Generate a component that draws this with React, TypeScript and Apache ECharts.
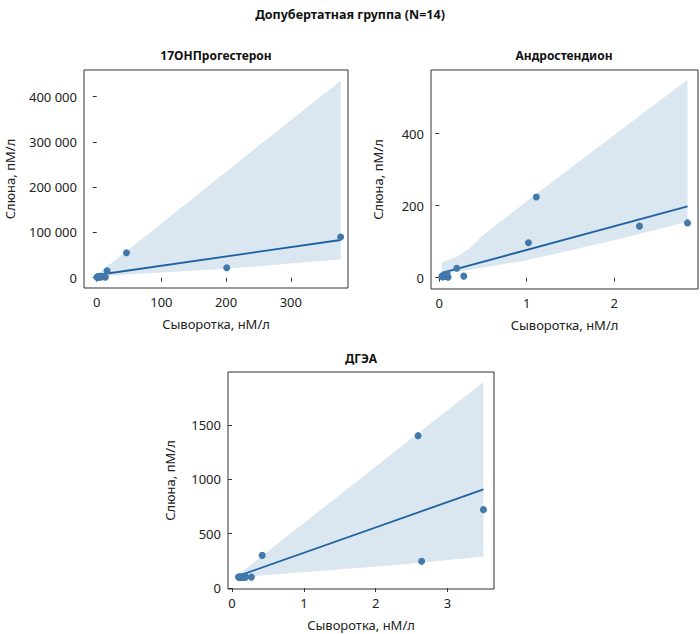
import React, { useEffect, useRef } from "react";
import * as echarts from "echarts";

// ---- Data ----
const mainTitle = "Допубертатная группа (N=14)";
const panelTitles = ["17OHПрогестерон", "Андростендион", "ДГЭА"];
const xLabel = "Сыворотка, нМ/л";
const yLabel = "Слюна, пМ/л";

// Panel 1: 17OHП
const x1 = [0.5, 1, 1.5, 2.5, 3, 4, 5, 6, 8, 13.5, 16, 46, 201, 377];
const y1 = [1200, 800, 2000, 1500, 2500, 1000, 3000, 2000, 1500, 1200, 15500, 55000, 22000, 90000];
const fitX1 = [0.5, 377];
const fitY1 = [6000, 83300];
const bandX1 = [0.5, 20, 100, 200, 377];
const bandHi1 = [7000, 29000, 120000, 234000, 435400];
const bandLo1 = [3000, 4700, 11500, 20000, 40600];
const xTicks1 = [0, 100, 200, 300];
const yTicks1 = [0, 100000, 200000, 300000, 400000];

// Panel 2: Андростендион
const x2 = [0.03, 0.04, 0.05, 0.06, 0.07, 0.08, 0.09, 0.1, 0.2, 0.28, 1.02, 1.11, 2.29, 2.84];
const y2 = [4, 2, 5, 8, 3, 6, 10, 1, 26, 4, 97, 224, 143, 152];
const fitX2 = [0.03, 2.84];
const fitY2 = [13, 198];
const bandX2 = [0.03, 0.2, 0.35, 0.5, 0.7, 1.0, 2.0, 2.84];
const bandHi2 = [42, 58, 82, 118, 156, 212, 396, 550];
const bandLo2 = [8, 16, 22, 28, 36, 48, 104, 155];
const xTicks2 = [0, 1, 2];
const yTicks2 = [0, 200, 400];

// Panel 3: ДГЭА
const x3 = [0.09, 0.1, 0.11, 0.12, 0.13, 0.14, 0.15, 0.17, 0.19, 0.27, 0.42, 2.59, 2.64, 3.5];
const y3 = [100, 100, 100, 100, 100, 100, 100, 100, 100, 100, 300, 1400, 245, 720];
const fitX3 = [0.09, 3.5];
const fitY3 = [112, 906];
const bandX3 = [0.09, 2.45, 3.5];
const bandHi3 = [125, 1349, 1893];
const bandLo3 = [100, 220, 290];
const xTicks3 = [0, 1, 2, 3];
const yTicks3 = [0, 500, 1000, 1500];

const FONT = "Noto Sans";
const POINT = "#4179ab";
const LINE = "#1f62a0";
const BAND = "#dae6f0";
const AX = "#333";

const fmtThousands = (v: number) => String(v).replace(/\B(?=(\d{3})+(?!\d))/g, " ");

export default function App() {
  const ref = useRef<HTMLDivElement>(null);
  useEffect(() => {
    document.body.style.margin = "0";
    if (!ref.current) return;
    const chart = echarts.init(ref.current, null, { renderer: "svg" });

    const panels = [
      { x: x1, y: y1, fx: fitX1, fy: fitY1, bx: bandX1, bh: bandHi1, bl: bandLo1, xt: xTicks1, yt: yTicks1,
        grid: { left: 84, top: 70, width: 264, height: 218 }, xr: [-19.6, 388.4], yr: [-22760, 459000],
        yGap: 68, fmt: fmtThousands },
      { x: x2, y: y2, fx: fitX2, fy: fitY2, bx: bandX2, bh: bandHi2, bl: bandLo2, xt: xTicks2, yt: yTicks2,
        grid: { left: 431, top: 70, width: 267, height: 219 }, xr: [-0.095, 2.96], yr: [-31.7, 577],
        yGap: 47, fmt: (v: number) => String(v) },
      { x: x3, y: y3, fx: fitX3, fy: fitY3, bx: bandX3, bh: bandHi3, bl: bandLo3, xt: xTicks3, yt: yTicks3,
        grid: { left: 228, top: 372, width: 266, height: 217 }, xr: [-0.056, 3.647], yr: [-9.2, 1985],
        yGap: 52, fmt: (v: number) => String(v) },
    ];

    const grids: any[] = [];
    const xAxes: any[] = [];
    const yAxes: any[] = [];
    const series: any[] = [];
    const labelStyle = { fontFamily: FONT, fontSize: 13, color: "#222" };

    panels.forEach((p, i) => {
      grids.push({ ...p.grid, show: true, borderColor: AX, borderWidth: 1, backgroundColor: "transparent", containLabel: false });
      xAxes.push({
        type: "value", gridIndex: i, min: p.xr[0], max: p.xr[1],
        axisLine: { show: false }, splitLine: { show: false },
        axisTick: { show: true, length: 4, lineStyle: { color: AX }, customValues: p.xt },
        axisLabel: { ...labelStyle, margin: 7, customValues: p.xt, formatter: (v: number) => String(v) },
        name: xLabel, nameLocation: "middle", nameGap: 29, nameTextStyle: labelStyle,
      });
      yAxes.push({
        type: "value", gridIndex: i, min: p.yr[0], max: p.yr[1],
        axisLine: { show: false }, splitLine: { show: false },
        axisTick: { show: true, length: 4, lineStyle: { color: AX }, customValues: p.yt },
        axisLabel: { ...labelStyle, margin: 7, customValues: p.yt, formatter: p.fmt },
        name: yLabel, nameLocation: "middle", nameGap: p.yGap, nameRotate: 90, nameTextStyle: labelStyle,
      });
      const bx = p.bx, bh = p.bh, bl = p.bl;
      series.push({
        type: "custom", xAxisIndex: i, yAxisIndex: i, silent: true, z: 1,
        data: bx.map((x, k) => [x, bl[k], bh[k]]),
        encode: { x: 0, y: [1, 2] },
        renderItem: (params: any, api: any) => {
          if (params.dataIndex !== 0) return null;
          const pts: number[][] = [];
          for (let k = 0; k < bx.length; k++) pts.push(api.coord([bx[k], bh[k]]));
          for (let k = bx.length - 1; k >= 0; k--) pts.push(api.coord([bx[k], bl[k]]));
          return { type: "polygon", shape: { points: pts }, style: { fill: BAND } };
        },
      });
      series.push({
        type: "line", xAxisIndex: i, yAxisIndex: i, z: 3, showSymbol: false, silent: true,
        data: p.fx.map((x, k) => [x, p.fy[k]]),
        lineStyle: { color: LINE, width: 1.8 },
      });
      series.push({
        type: "scatter", xAxisIndex: i, yAxisIndex: i, z: 4, symbolSize: 7, silent: true,
        data: p.x.map((x, k) => [x, p.y[k]]),
        itemStyle: { color: POINT, opacity: 1 },
      });
    });

    const titleStyle = (x: number, y: number, text: string, size: number) => ({
      type: "text", x, y,
      style: { text, fontFamily: FONT, fontSize: size, fontWeight: "bold", fill: "#111", textAlign: "center", textVerticalAlign: "middle" },
    });

    chart.setOption({
      animation: false,
      grid: grids,
      xAxis: xAxes,
      yAxis: yAxes,
      series,
      graphic: [
        titleStyle(350, 14, mainTitle, 12.5),
        titleStyle(216, 55, panelTitles[0], 12),
        titleStyle(564, 55, panelTitles[1], 12),
        titleStyle(361, 358, panelTitles[2], 12),
      ],
    });
    return () => chart.dispose();
  }, []);
  return <div ref={ref} style={{ width: 700, height: 634 }} />;
}
